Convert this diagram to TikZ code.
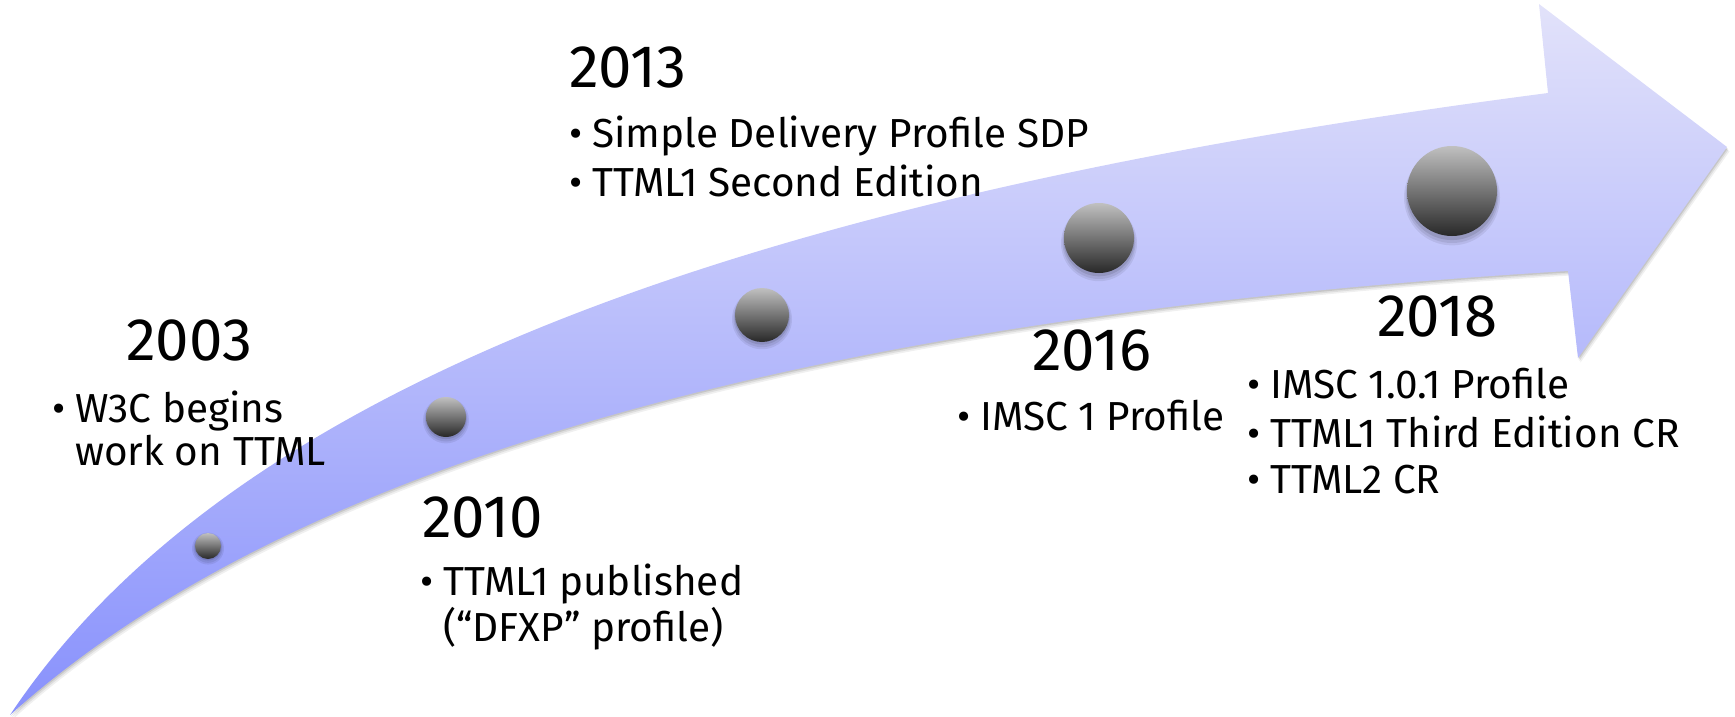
\documentclass[tikz,border=0pt]{standalone}
\usepackage{fontspec}
\setmainfont{Fira Sans}
\definecolor{arrtop}{RGB}{226,226,250}
\definecolor{arrbot}{RGB}{136,145,252}
\definecolor{balltop}{RGB}{192,192,192}
\definecolor{ballbot}{RGB}{40,40,40}
\newcommand\ArrowPath{(10,715) .. controls (240,370) and (788,192) .. (1548,93) -- (1539,4) -- (1727,147) -- (1578,358) -- (1568,271) .. controls (868,313) and (310,445) .. (10,715) -- cycle}
\newcommand\BallShadow[3]{%
  \fill[black,opacity=0.07] (#1,#2+#3*0.12+1) circle[radius=#3+3];
  \fill[black,opacity=0.08] (#1,#2+#3*0.10+1) circle[radius=#3+1.5];
  \fill[black,opacity=0.10] (#1,#2+#3*0.08) circle[radius=#3+0.5];}
\begin{document}
\begin{tikzpicture}[x=1pt,y=-1pt,
  lbl/.style={inner sep=0pt, anchor=base west, font=\fontsize{40.5}{48}\selectfont},
  yr/.style={inner sep=0pt, anchor=base west, font=\fontsize{60}{70}\selectfont},
  ball/.style={circle, inner sep=0pt, draw=none, top color=balltop, bottom color=ballbot}]
\useasboundingbox (0,0) rectangle (1735,717);
% arrow shadow
\begin{scope}[shift={(2.5,4.5)}]
  \fill[black,opacity=0.06] \ArrowPath;
\end{scope}
\begin{scope}[shift={(1.5,3)}]
  \fill[black,opacity=0.08] \ArrowPath;
\end{scope}
\begin{scope}[shift={(0.7,1.5)}]
  \fill[black,opacity=0.10] \ArrowPath;
\end{scope}
% arrow body
\shade[top color=arrtop, bottom color=arrbot] \ArrowPath;
% spheres
\BallShadow{208}{546}{13}
\BallShadow{446}{417}{20}
\BallShadow{762}{315}{27}
\BallShadow{1099}{238}{35}
\BallShadow{1452}{191}{45}
\node[ball, minimum size=26pt] (b2003) at (208,546) {};
\node[ball, minimum size=40pt] (b2010) at (446,417) {};
\node[ball, minimum size=54pt] (b2013) at (762,315) {};
\node[ball, minimum size=70pt] (b2016) at (1099,238) {};
\node[ball, minimum size=90pt] (b2018) at (1452,191) {};
% years
\node[yr] (y2003) at (126,360) {2003};
\node[yr] (y2010) at (422,537) {2010};
\node[yr] (y2013) at (569,88) {2013};
\node[yr] (y2016) at (1032,370) {2016};
\node[yr] (y2018) at (1377,336) {2018};
% items
\node[lbl] (t2003a) at (75,422) {\llap{•\hspace{10pt}}W3C begins};
\node[lbl] (t2003b) at (75,465) {work on TTML};
\node[lbl] (t2010a) at (443,595) {\llap{•\hspace{10pt}}TTML1 published};
\node[lbl] (t2010b) at (443,641) {(“DFXP” profile)};
\node[lbl] (t2013a) at (592,147) {\llap{•\hspace{10pt}}Simple Delivery Profile SDP};
\node[lbl] (t2013b) at (592,196) {\llap{•\hspace{10pt}}TTML1 Second Edition};
\node[lbl] (t2016a) at (980,430) {\llap{•\hspace{10pt}}IMSC 1 Profile};
\node[lbl] (t2018a) at (1270,398) {\llap{•\hspace{10pt}}IMSC 1.0.1 Profile};
\node[lbl] (t2018b) at (1270,447) {\llap{•\hspace{10pt}}TTML1 Third Edition CR};
\node[lbl] (t2018c) at (1270,493) {\llap{•\hspace{10pt}}TTML2 CR};
\end{tikzpicture}
\end{document}
